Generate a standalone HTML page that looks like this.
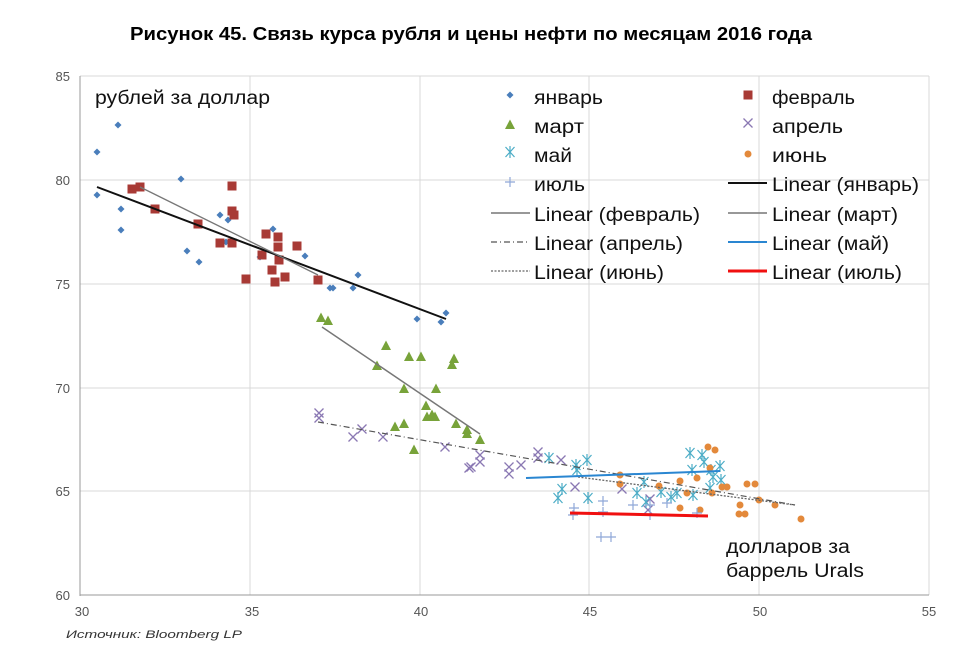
<!DOCTYPE html>
<html><head><meta charset="utf-8"><style>
html,body{margin:0;padding:0;background:#fff;}
svg text{font-family:"Liberation Sans",sans-serif;}
</style></head><body>
<svg width="956" height="655" viewBox="0 0 956 655" xmlns="http://www.w3.org/2000/svg">
<defs>
<g id="dia"><path d="M0,-3.5L3.5,0L0,3.5L-3.5,0Z" fill="#4a7ebb"/></g>
<g id="sq"><rect x="-4.5" y="-4.5" width="9" height="9" fill="#a83a35"/></g>
<g id="tri"><path d="M0,-5.5L5,4L-5,4Z" fill="#78a33a"/></g>
<g id="xx"><path d="M-4.5,-4.5L4.5,4.5M-4.5,4.5L4.5,-4.5" stroke="#8a78b3" stroke-width="1.3"/></g>
<g id="ast"><path d="M-4.5,-5L4.5,5M-4.5,5L4.5,-5M0,-6L0,6" stroke="#4bacc6" stroke-width="1.2"/></g>
<g id="dot"><circle r="3.5" fill="#e3893b"/></g>
<g id="pl"><path d="M-5,0L5,0M0,-5L0,5" stroke="#8fa8d8" stroke-width="1.2"/></g>
</defs>
<text x="130" y="40" font-size="18" font-weight="bold" fill="#000" textLength="682" lengthAdjust="spacingAndGlyphs">Рисунок 45. Связь курса рубля и цены нефти по месяцам 2016 года</text>
<g stroke="#d9d9d9" stroke-width="1">
<line x1="80" y1="76" x2="929" y2="76"/><line x1="80" y1="180" x2="929" y2="180"/>
<line x1="80" y1="284" x2="929" y2="284"/><line x1="80" y1="388" x2="929" y2="388"/>
<line x1="80" y1="491" x2="929" y2="491"/>
<line x1="250" y1="76" x2="250" y2="595"/><line x1="420" y1="76" x2="420" y2="595"/>
<line x1="589" y1="76" x2="589" y2="595"/><line x1="759" y1="76" x2="759" y2="595"/>
<line x1="929" y1="76" x2="929" y2="595"/>
</g>
<line x1="80" y1="76" x2="80" y2="596" stroke="#999"/>
<line x1="80" y1="595" x2="929" y2="595" stroke="#999"/>
<g font-size="13" fill="#555" text-anchor="end">
<text x="70" y="81">85</text><text x="70" y="185">80</text><text x="70" y="289">75</text>
<text x="70" y="393">70</text><text x="70" y="496">65</text><text x="70" y="600">60</text>
</g>
<g font-size="13" fill="#555" text-anchor="middle">
<text x="82" y="616">30</text><text x="252" y="616">35</text><text x="421" y="616">40</text>
<text x="590" y="616">45</text><text x="760" y="616">50</text><text x="929" y="616">55</text>
</g>
<text x="66" y="638" font-size="11" font-style="italic" fill="#333" textLength="176" lengthAdjust="spacingAndGlyphs">Источник: Bloomberg LP</text>
<text x="95" y="104" font-size="19" fill="#111" textLength="175" lengthAdjust="spacingAndGlyphs">рублей за доллар</text>
<text x="726" y="553" font-size="19" fill="#111" textLength="124" lengthAdjust="spacingAndGlyphs">долларов за</text>
<text x="726" y="577" font-size="19" fill="#111" textLength="138" lengthAdjust="spacingAndGlyphs">баррель Urals</text>

<g>
<use href="#dia" x="97" y="152"/><use href="#dia" x="118" y="125"/><use href="#dia" x="97" y="195"/>
<use href="#dia" x="121" y="209"/><use href="#dia" x="121" y="230"/><use href="#dia" x="181" y="179"/>
<use href="#dia" x="187" y="251"/><use href="#dia" x="199" y="262"/><use href="#dia" x="220" y="215"/>
<use href="#dia" x="228" y="220"/><use href="#dia" x="226" y="242"/><use href="#dia" x="260" y="257"/>
<use href="#dia" x="273" y="229"/><use href="#dia" x="305" y="256"/><use href="#dia" x="330" y="288"/>
<use href="#dia" x="333" y="288"/><use href="#dia" x="353" y="288"/><use href="#dia" x="358" y="275"/>
<use href="#dia" x="417" y="319"/><use href="#dia" x="441" y="322"/><use href="#dia" x="446" y="313"/>
</g>
<g>
<use href="#sq" x="132" y="189"/><use href="#sq" x="140" y="187"/><use href="#sq" x="155" y="209"/>
<use href="#sq" x="198" y="224"/><use href="#sq" x="220" y="243"/><use href="#sq" x="232" y="243"/>
<use href="#sq" x="232" y="186"/><use href="#sq" x="232" y="211"/><use href="#sq" x="234" y="215"/>
<use href="#sq" x="246" y="279"/><use href="#sq" x="266" y="234"/><use href="#sq" x="262" y="255"/>
<use href="#sq" x="272" y="270"/><use href="#sq" x="275" y="282"/><use href="#sq" x="278" y="237"/>
<use href="#sq" x="278" y="247"/><use href="#sq" x="279" y="260"/><use href="#sq" x="285" y="277"/>
<use href="#sq" x="297" y="246"/><use href="#sq" x="318" y="280"/>
</g>
<g>
<use href="#tri" x="321" y="318"/><use href="#tri" x="328" y="321"/><use href="#tri" x="386" y="346"/>
<use href="#tri" x="409" y="357"/><use href="#tri" x="421" y="357"/><use href="#tri" x="377" y="366"/>
<use href="#tri" x="404" y="389"/><use href="#tri" x="436" y="389"/><use href="#tri" x="426" y="406"/>
<use href="#tri" x="427" y="417"/><use href="#tri" x="435" y="417"/><use href="#tri" x="395" y="427"/>
<use href="#tri" x="404" y="424"/><use href="#tri" x="456" y="424"/><use href="#tri" x="467" y="430"/>
<use href="#tri" x="467" y="434"/><use href="#tri" x="480" y="440"/><use href="#tri" x="414" y="450"/>
<use href="#tri" x="454" y="359"/><use href="#tri" x="452" y="365"/><use href="#tri" x="432" y="415"/>
</g>
<g>
<use href="#xx" x="319" y="413"/><use href="#xx" x="319" y="418"/><use href="#xx" x="353" y="437"/>
<use href="#xx" x="362" y="429"/><use href="#xx" x="383" y="437"/><use href="#xx" x="445" y="447"/>
<use href="#xx" x="471" y="467"/><use href="#xx" x="480" y="455"/><use href="#xx" x="480" y="462"/>
<use href="#xx" x="469" y="468"/><use href="#xx" x="509" y="467"/><use href="#xx" x="521" y="465"/>
<use href="#xx" x="509" y="474"/><use href="#xx" x="538" y="452"/><use href="#xx" x="538" y="458"/>
<use href="#xx" x="561" y="460"/><use href="#xx" x="575" y="487"/><use href="#xx" x="622" y="489"/>
<use href="#xx" x="650" y="499"/><use href="#xx" x="648" y="510"/>
</g>
<g>
<use href="#ast" x="549" y="458"/><use href="#ast" x="576" y="465"/><use href="#ast" x="587" y="460"/>
<use href="#ast" x="577" y="470"/><use href="#ast" x="558" y="498"/><use href="#ast" x="588" y="498"/>
<use href="#ast" x="562" y="489"/><use href="#ast" x="646" y="502"/><use href="#ast" x="644" y="482"/>
<use href="#ast" x="671" y="497"/><use href="#ast" x="677" y="493"/><use href="#ast" x="661" y="492"/>
<use href="#ast" x="637" y="493"/><use href="#ast" x="690" y="453"/><use href="#ast" x="702" y="455"/>
<use href="#ast" x="704" y="462"/><use href="#ast" x="692" y="470"/><use href="#ast" x="720" y="466"/>
<use href="#ast" x="711" y="470"/><use href="#ast" x="710" y="488"/><use href="#ast" x="693" y="495"/>
<use href="#ast" x="721" y="480"/><use href="#ast" x="713" y="477"/>
</g>
<g>
<use href="#dot" x="708" y="447"/><use href="#dot" x="715" y="450"/><use href="#dot" x="620" y="475"/>
<use href="#dot" x="620" y="484"/><use href="#dot" x="659" y="486"/><use href="#dot" x="680" y="481"/>
<use href="#dot" x="697" y="478"/><use href="#dot" x="710" y="468"/><use href="#dot" x="722" y="487"/>
<use href="#dot" x="727" y="487"/><use href="#dot" x="747" y="484"/><use href="#dot" x="755" y="484"/>
<use href="#dot" x="712" y="493"/><use href="#dot" x="687" y="493"/><use href="#dot" x="680" y="508"/>
<use href="#dot" x="700" y="510"/><use href="#dot" x="740" y="505"/><use href="#dot" x="739" y="514"/>
<use href="#dot" x="745" y="514"/><use href="#dot" x="759" y="500"/><use href="#dot" x="775" y="505"/>
<use href="#dot" x="801" y="519"/>
</g>
<g>
<use href="#pl" x="574" y="508"/><use href="#pl" x="573" y="515"/><use href="#pl" x="603" y="501"/>
<use href="#pl" x="603" y="512"/><use href="#pl" x="633" y="505"/><use href="#pl" x="650" y="505"/>
<use href="#pl" x="650" y="515"/><use href="#pl" x="601" y="537"/><use href="#pl" x="611" y="537"/>
<use href="#pl" x="667" y="503"/><use href="#pl" x="697" y="513"/>
</g>

<line x1="97" y1="187" x2="446" y2="319" stroke="#111" stroke-width="2"/>
<line x1="140" y1="187" x2="318" y2="275" stroke="#777" stroke-width="1.3"/>
<line x1="322" y1="327" x2="480" y2="434" stroke="#777" stroke-width="1.5"/>
<line x1="318" y1="422" x2="795" y2="505" stroke="#555" stroke-width="1.2" stroke-dasharray="6,3,1,3"/>
<line x1="578" y1="477" x2="795" y2="505" stroke="#666" stroke-width="1.3" stroke-dasharray="2,1.5"/>
<line x1="526" y1="478" x2="720" y2="471" stroke="#2a86d1" stroke-width="2"/>
<line x1="570" y1="513" x2="708" y2="516" stroke="#f01010" stroke-width="3"/>

<g font-size="19" fill="#111">
<use href="#dia" x="510" y="95"/><text x="534" y="104" textLength="69" lengthAdjust="spacingAndGlyphs">январь</text>
<use href="#sq" x="748" y="95"/><text x="772" y="104" textLength="83" lengthAdjust="spacingAndGlyphs">февраль</text>
<use href="#tri" x="510" y="125"/><text x="534" y="133" textLength="50" lengthAdjust="spacingAndGlyphs">март</text>
<use href="#xx" x="748" y="123"/><text x="772" y="133" textLength="71" lengthAdjust="spacingAndGlyphs">апрель</text>
<use href="#ast" x="510" y="152"/><text x="534" y="162" textLength="38" lengthAdjust="spacingAndGlyphs">май</text>
<use href="#dot" x="748" y="154"/><text x="772" y="162" textLength="55" lengthAdjust="spacingAndGlyphs">июнь</text>
<use href="#pl" x="510" y="182"/><text x="534" y="191" textLength="51" lengthAdjust="spacingAndGlyphs">июль</text>
<line x1="728" y1="183" x2="767" y2="183" stroke="#111" stroke-width="2"/><text x="772" y="191" textLength="147" lengthAdjust="spacingAndGlyphs">Linear (январь)</text>
<line x1="491" y1="213" x2="530" y2="213" stroke="#777" stroke-width="1.5"/><text x="534" y="221" textLength="166" lengthAdjust="spacingAndGlyphs">Linear (февраль)</text>
<line x1="728" y1="213" x2="767" y2="213" stroke="#777" stroke-width="1.5"/><text x="772" y="221" textLength="126" lengthAdjust="spacingAndGlyphs">Linear (март)</text>
<line x1="491" y1="242" x2="530" y2="242" stroke="#555" stroke-width="1.2" stroke-dasharray="6,3,1,3"/><text x="534" y="250" textLength="149" lengthAdjust="spacingAndGlyphs">Linear (апрель)</text>
<line x1="728" y1="242" x2="767" y2="242" stroke="#2a86d1" stroke-width="2"/><text x="772" y="250" textLength="117" lengthAdjust="spacingAndGlyphs">Linear (май)</text>
<line x1="491" y1="271" x2="530" y2="271" stroke="#666" stroke-width="1.3" stroke-dasharray="2,1.5"/><text x="534" y="279" textLength="130" lengthAdjust="spacingAndGlyphs">Linear (июнь)</text>
<line x1="728" y1="271" x2="767" y2="271" stroke="#f01010" stroke-width="3"/><text x="772" y="279" textLength="130" lengthAdjust="spacingAndGlyphs">Linear (июль)</text>
</g>
</svg>
</body></html>
